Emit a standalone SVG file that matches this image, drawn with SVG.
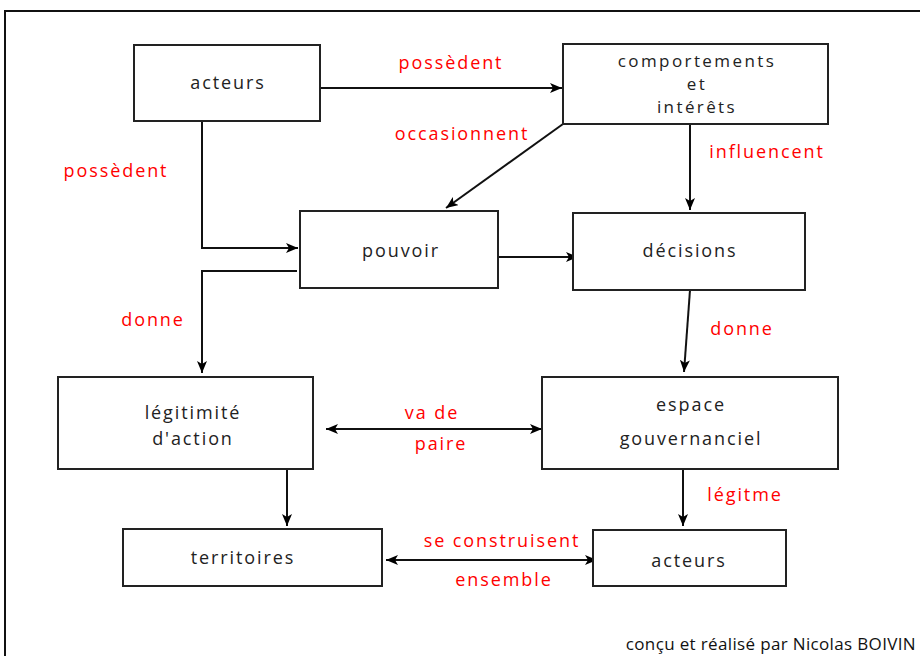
<svg xmlns="http://www.w3.org/2000/svg" width="920" height="656" viewBox="0 0 920 656">
<defs>
<marker id="ah" viewBox="0 0 12 10" refX="12" refY="5" markerWidth="12" markerHeight="10" markerUnits="userSpaceOnUse" orient="auto-start-reverse">
<path d="M0,0 L12,5 L0,10 L3,5 Z" fill="#000"/>
</marker>
<style>
.box{fill:#fff;stroke:#222;stroke-width:2}
.t{font-family:"Open Sans","DejaVu Sans",sans-serif;font-size:18px;fill:#222;text-anchor:middle;letter-spacing:1.9px}
.s{font-family:"Open Sans","DejaVu Sans",sans-serif;font-size:17px;fill:#222;text-anchor:middle;letter-spacing:2.4px}
.r{font-family:"Open Sans","DejaVu Sans",sans-serif;font-size:18px;fill:#f00;text-anchor:middle;letter-spacing:1.9px}
.c{fill:none;stroke:#111;stroke-width:2}
</style>
</defs>
<rect x="0" y="0" width="920" height="656" fill="#fff"/>
<rect x="5" y="11" width="930" height="660" fill="none" stroke="#111" stroke-width="2"/>
<g id="connectors">
<path class="c" d="M320,88 H562" marker-end="url(#ah)"/>
<path class="c" d="M202,121 V248 H298" marker-end="url(#ah)"/>
<path class="c" d="M563,124 L446,208" marker-end="url(#ah)"/>
<path class="c" d="M690,124 V210" marker-end="url(#ah)"/>
<path class="c" d="M498,257 H578" marker-end="url(#ah)"/>
<path class="c" d="M297,271 H202 V373" marker-end="url(#ah)"/>
<path class="c" d="M690,290 L684,372" marker-end="url(#ah)"/>
<path class="c" d="M326,429 H542" marker-start="url(#ah)" marker-end="url(#ah)"/>
<path class="c" d="M287,469 V526" marker-end="url(#ah)"/>
<path class="c" d="M683,469 V526" marker-end="url(#ah)"/>
<path class="c" d="M386,560 H597" marker-start="url(#ah)" marker-end="url(#ah)"/>
</g>
<g id="labels">
<text class="r" x="451" y="69">possèdent</text>
<text class="r" x="116" y="177">possèdent</text>
<text class="r" x="462" y="140">occasionnent</text>
<text class="r" x="767" y="158">influencent</text>
<text class="r" x="153" y="326">donne</text>
<text class="r" x="742" y="335">donne</text>
<text class="r" x="432" y="419">va de</text>
<text class="r" x="441" y="450">paire</text>
<text class="r" x="745" y="501">légitme</text>
<text class="r" x="502" y="547">se construisent</text>
<text class="r" x="504" y="586">ensemble</text>
</g>
<g id="n-acteurs1"><rect class="box" x="134" y="45" width="186" height="76"/><text class="t" x="228" y="89">acteurs</text></g>
<g id="n-comportements"><rect class="box" x="563" y="44" width="265" height="80"/><text class="s" x="697" y="67">comportements</text><text class="s" x="697" y="90">et</text><text class="s" x="697" y="113">intérêts</text></g>
<g id="n-pouvoir"><rect class="box" x="300" y="211" width="198" height="77"/><text class="t" x="401" y="257">pouvoir</text></g>
<g id="n-decisions"><rect class="box" x="573" y="213" width="232" height="77"/><text class="t" x="690" y="257">décisions</text></g>
<g id="n-legitimite"><rect class="box" x="58" y="377" width="255" height="92"/><text class="t" x="193" y="419">légitimité</text><text class="t" x="193" y="445">d'action</text></g>
<g id="n-espace"><rect class="box" x="542" y="377" width="296" height="92"/><text class="t" x="691" y="411">espace</text><text class="t" x="691" y="445">gouvernanciel</text></g>
<g id="n-territoires"><rect class="box" x="123" y="529" width="259" height="57"/><text class="t" x="243" y="564">territoires</text></g>
<g id="n-acteurs2"><rect class="box" x="593" y="530" width="193" height="56"/><text class="t" x="689" y="567">acteurs</text></g>
<text x="916" y="650" font-family="Open Sans,DejaVu Sans,sans-serif" font-size="17" letter-spacing="0.35" fill="#111" text-anchor="end">conçu et réalisé par Nicolas BOIVIN</text>
</svg>
